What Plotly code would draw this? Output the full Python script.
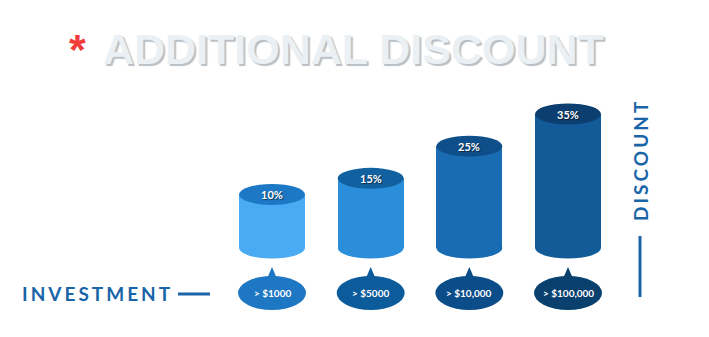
import plotly.graph_objects as go

# ---- data ----
tiers = ["> $1000", "> $5000", "> $10,000", "> $100,000"]
discount = [10, 15, 25, 35]
discount_labels = ["10%", "15%", "25%", "35%"]
body_colors = ["#4AABF2", "#2A8EDB", "#1A6CB2", "#135B98"]
top_colors = ["#1C78C5", "#11609F", "#0E4F8A", "#0C3F6F"]
bubble_colors = ["#1E77C2", "#0C5C9C", "#0B4D88", "#0A406E"]
title_text = "ADDITIONAL DISCOUNT"
x_label = "INVESTMENT"
y_label = "DISCOUNT"

# ---- layout constants ----
W, H = 709, 337
X_RANGE = [-2.757, 4.429]
Y_RANGE = [-34.32, 70.44]
BASE = -6.65          # foot of the cylinders (value units)
HALF_W = 0.334        # cylinder half width (x units)
UNIT_PER_PX_Y = (Y_RANGE[1] - Y_RANGE[0]) / H
UNIT_PER_PX_X = (X_RANGE[1] - X_RANGE[0]) / W
RY = 10.5 * UNIT_PER_PX_Y


def py(px):
    """pixel row -> y value"""
    return Y_RANGE[1] - px * UNIT_PER_PX_Y


xs = list(range(len(tiers)))

fig = go.Figure()
fig.add_trace(go.Bar(
    x=xs, y=[v - BASE for v in discount], base=BASE,
    width=2 * HALF_W, marker=dict(color=body_colors, line=dict(width=0)),
    hoverinfo="skip", showlegend=False))

shapes = []
annotations = []
for i, v in enumerate(discount):
    # bottom ellipse
    shapes.append(dict(type="circle", xref="x", yref="y", layer="below",
                       x0=i - HALF_W, x1=i + HALF_W, y0=BASE - RY, y1=BASE + RY,
                       fillcolor=body_colors[i], line=dict(width=0)))
    # top ellipse
    shapes.append(dict(type="circle", xref="x", yref="y", layer="above",
                       x0=i - HALF_W, x1=i + HALF_W, y0=v - RY, y1=v + RY,
                       fillcolor=top_colors[i], line=dict(width=0)))
    annotations.append(dict(x=i, y=v, xref="x", yref="y", xanchor="center", yanchor="middle",
                            text="<b>%s</b>" % discount_labels[i],
                            showarrow=False, font=dict(family="Lato", size=11, color="white",
                                                       shadow="1px 1px 1px rgba(0,0,0,0.55)")))
    # bubble
    bc = py(293)
    brx = 34 * UNIT_PER_PX_X
    bry = 17 * UNIT_PER_PX_Y
    shapes.append(dict(type="circle", xref="x", yref="y", layer="above",
                       x0=i - brx, x1=i + brx, y0=bc - bry, y1=bc + bry,
                       fillcolor=bubble_colors[i], line=dict(width=0)))
    hw = 6 * UNIT_PER_PX_X
    shapes.append(dict(type="path", xref="x", yref="y", layer="above",
                       path="M %f,%f L %f,%f L %f,%f Z" % (i - hw, py(281), i, py(267), i + hw, py(281)),
                       fillcolor=bubble_colors[i], line=dict(width=0)))
    annotations.append(dict(x=i, y=bc, xref="x", yref="y", xanchor="center", yanchor="middle",
                            text="<b>%s</b>" % tiers[i],
                            showarrow=False, font=dict(family="Lato", size=10, color="white")))

# axis decorations
shapes.append(dict(type="line", xref="paper", yref="paper",
                   x0=178 / W, x1=210 / W, y0=1 - 294 / H, y1=1 - 294 / H,
                   line=dict(color="#1A65A8", width=3)))
shapes.append(dict(type="line", xref="paper", yref="paper",
                   x0=640 / W, x1=640 / W, y0=1 - 236 / H, y1=1 - 297 / H,
                   line=dict(color="#1A65A8", width=3)))

annotations.append(dict(x=20 / W, y=1 - 293 / H, xref="paper", yref="paper",
                        xanchor="left", yanchor="middle",
                        text="<b><span style='letter-spacing:3px'>%s</span></b>" % x_label,
                        showarrow=False, font=dict(family="Lato", size=19, color="#1A65A8")))
annotations.append(dict(x=640 / W, y=1 - 160 / H, xref="paper", yref="paper", textangle=-90,
                        xanchor="center", yanchor="middle",
                        text="<b><span style='letter-spacing:3px'>%s</span></b>" % y_label,
                        showarrow=False, font=dict(family="Lato", size=19, color="#1A65A8")))

# title
annotations.append(dict(x=353 / W, y=1 - 49 / H, xref="paper", yref="paper",
                        xanchor="center", yanchor="middle",
                        text="<b>%s</b>" % title_text, showarrow=False,
                        font=dict(family="Liberation Sans", size=43, color="#EAF0F4",
                                  shadow="2px 2px 1px #B9BFC4")))
annotations.append(dict(x=88 / W, y=1 - 49 / H, xref="paper", yref="paper",
                        xanchor="right", yanchor="middle",
                        text="<b>*</b>", showarrow=False,
                        font=dict(family="Liberation Sans", size=43, color="#F23B3B")))

fig.update_layout(
    width=W, height=H, margin=dict(l=0, r=0, t=0, b=0),
    paper_bgcolor="white", plot_bgcolor="white",
    xaxis=dict(range=X_RANGE, visible=False, fixedrange=True),
    yaxis=dict(range=Y_RANGE, visible=False, fixedrange=True),
    shapes=shapes, annotations=annotations, showlegend=False, bargap=0)

fig.write_html("out.html")
